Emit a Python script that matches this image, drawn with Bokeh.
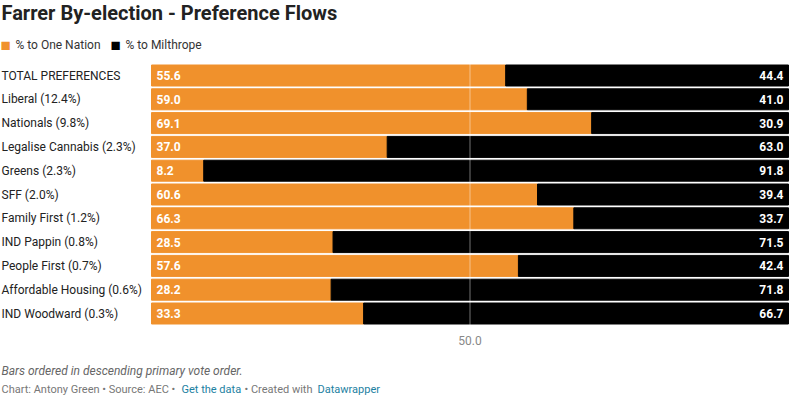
from bokeh.plotting import figure
from bokeh.models import ColumnDataSource, Label, Span, Range1d
from bokeh.core.properties import value
from bokeh.embed import file_html
from bokeh.resources import INLINE

categories = ["TOTAL PREFERENCES", "Liberal (12.4%)", "Nationals (9.8%)", "Legalise Cannabis (2.3%)",
              "Greens (2.3%)", "SFF (2.0%)", "Family First (1.2%)", "IND Pappin (0.8%)",
              "People First (0.7%)", "Affordable Housing (0.6%)", "IND Woodward (0.3%)"]
one_nation = [55.6, 59.0, 69.1, 37.0, 8.2, 60.6, 66.3, 28.5, 57.6, 28.2, 33.3]
milthrope = [44.4, 41.0, 30.9, 63.0, 91.8, 39.4, 33.7, 71.5, 42.4, 71.8, 66.7]

ORANGE = "#f0912c"
W, H = 792, 397
BAR_L, BAR_R = 151, 788
scale = (BAR_R - BAR_L) / 100.0
x0 = -BAR_L / scale
x1 = 100 + (W - BAR_R) / scale
PITCH = 23.8
rows = [75 + PITCH * i for i in range(len(categories))]

src = ColumnDataSource(dict(y=rows, cat=categories, on=one_nation, mi=milthrope,
                            total=[a + b for a, b in zip(one_nation, milthrope)],
                            onl=["%.1f" % v for v in one_nation], mil=["%.1f" % v for v in milthrope],
                            lx=[x0 + 1 / scale] * len(categories)))

p = figure(width=W, height=H, output_backend="svg", toolbar_location=None,
           x_range=Range1d(x0, x1), y_range=Range1d(H, 0),
           min_border=0, min_border_left=0, min_border_right=0, min_border_top=0, min_border_bottom=0)
p.outline_line_color = None
p.grid.visible = False
p.axis.visible = False

p.hbar(y="y", left=0, right="on", height=21, color=ORANGE, source=src)
p.hbar(y="y", left="on", right="total", height=21, color="#000000", source=src)
p.add_layout(Span(location=50, dimension="height", line_color="#ffffff", line_alpha=0.45, line_width=1))

F = value("Roboto")
common = dict(text_color="white", text_font=F, text_font_size="12px", text_font_style="bold",
              text_baseline="middle", source=src)
p.text(x=0, y="y", text="onl", x_offset=5, text_align="left", **common)
p.text(x="total", y="y", text="mil", x_offset=-5, text_align="right", **common)
p.text(x="lx", y="y", text="cat", text_align="left", text_color="#222222", text_font=F,
       text_font_size="12px", text_baseline="middle", source=src)

def lab(x, ytop, text, **kw):
    d = dict(text_font="Roboto", text_font_size="12px", text_color="#333333", text_baseline="middle")
    d.update(kw)
    p.add_layout(Label(x=x, y=H - ytop, x_units="screen", y_units="screen", text=text, **d))

lab(1, 12, "Farrer By-election - Preference Flows", text_font_size="20px", text_font_style="bold", text_color="#222222")
lab(0, 44, "■", text_color=ORANGE, text_font_size="17px")
lab(15, 44, "% to One Nation")
lab(110, 44, "■", text_color="#000000", text_font_size="17px")
lab(125, 44, "% to Milthrope")
lab(BAR_L + 50 * scale, 340, "50.0", text_color="#888888", text_align="center")
lab(1, 370, "Bars ordered in descending primary vote order.", text_font_style="italic", text_color="#666666")
lab(1, 389, "Chart: Antony Green • Source: AEC • ", text_font_size="11px", text_color="#777777")
lab(181, 389, "Get the data", text_font_size="11px", text_color="#1d81a2")
lab(244, 389, " • Created with ", text_font_size="11px", text_color="#777777")
lab(317, 389, "Datawrapper", text_font_size="11px", text_color="#1d81a2")

open("out.html", "w").write(file_html(p, INLINE))
